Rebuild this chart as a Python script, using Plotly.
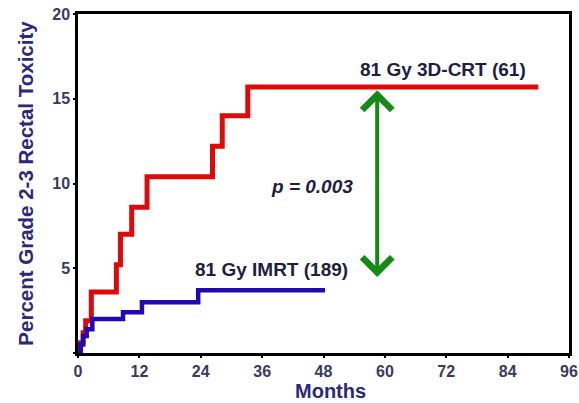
import plotly.graph_objects as go

# Data
crt_months = [0, 0.5, 1, 1.5, 2.6, 7.5, 8.3, 10.5, 13.5, 26.3, 28.2, 33.2, 90]
crt_values = [0, 0.6, 1.2, 1.9, 3.6, 5.2, 7.0, 8.6, 10.4, 12.2, 14.0, 15.7, 15.7]
imrt_months = [0, 0.5, 1.0, 1.7, 2.8, 8.8, 12.5, 23.5, 48.3]
imrt_values = [0, 0.5, 1.0, 1.4, 2.0, 2.4, 3.0, 3.7, 3.7]
x_ticks = [0, 12, 24, 36, 48, 60, 72, 84, 96]
y_ticks = [0, 5, 10, 15, 20]
y_tick_labels = ["", "5", "10", "15", "20"]
crt_label = "81 Gy 3D-CRT (61)"
imrt_label = "81 Gy IMRT (189)"
p_label = "<i>p = 0.003</i>"
x_title = "Months"
y_title = "Percent Grade 2-3 Rectal Toxicity"
arrow_month = 58.5
arrow_top = 15.5
arrow_bottom = 4.4

fig = go.Figure()
fig.add_trace(go.Scatter(x=crt_months, y=crt_values, mode="lines", line_shape="hv",
                         line=dict(color="#dd0a0a", width=5), cliponaxis=False, showlegend=False))
fig.add_trace(go.Scatter(x=imrt_months, y=imrt_values, mode="lines", line_shape="hv",
                         line=dict(color="#2208b0", width=4.5), cliponaxis=False, showlegend=False))

txt_font = dict(family="Liberation Sans", size=19, color="#1e1e40", weight="bold")
fig.add_annotation(x=71.4, y=16.7, text=crt_label, showarrow=False, font=txt_font)
fig.add_annotation(x=37.8, y=4.9, text=imrt_label, showarrow=False, font=txt_font)
fig.add_annotation(x=45.8, y=9.8, text=p_label, showarrow=False, font=txt_font)

fig.add_annotation(x=arrow_month, y=arrow_top, ax=arrow_month, ay=arrow_bottom,
                   xref="x", yref="y", axref="x", ayref="y", text="",
                   showarrow=True, arrowhead=4, startarrowhead=4, arrowside="end+start",
                   arrowsize=1.45, startarrowsize=1.45, arrowwidth=4, arrowcolor="#168a16")

plot_h = 403 - 14 - 50
# x-axis title (placed slightly right of centre as in the original)
fig.add_annotation(x=0.514, y=-37.5 / plot_h, xref="paper", yref="paper", text=x_title,
                   showarrow=False, yanchor="middle",
                   font=dict(family="Liberation Sans", size=20, color="#2a2a78", weight="bold"))

axis_common = dict(showline=True, linecolor="black", linewidth=2.5, mirror=True,
                   ticks="outside", ticklen=2, tickwidth=1.5, tickcolor="black",
                   showgrid=False, zeroline=False, automargin=False,
                   tickfont=dict(family="Liberation Sans", size=16, color="#3a3a62", weight="bold"))

fig.update_xaxes(range=[0, 96], tickvals=x_ticks, ticktext=[str(t) for t in x_ticks],
                 **axis_common)
fig.update_yaxes(range=[0, 20], tickvals=y_ticks, ticktext=y_tick_labels,
                 title=dict(text=y_title, standoff=14,
                            font=dict(family="Liberation Sans", size=20.5, color="#2a2a78", weight="bold")),
                 **axis_common)

fig.update_layout(width=579, height=403, margin=dict(l=78, r=10, t=14, b=50),
                  plot_bgcolor="white", paper_bgcolor="white")
fig.write_html("out.html")
